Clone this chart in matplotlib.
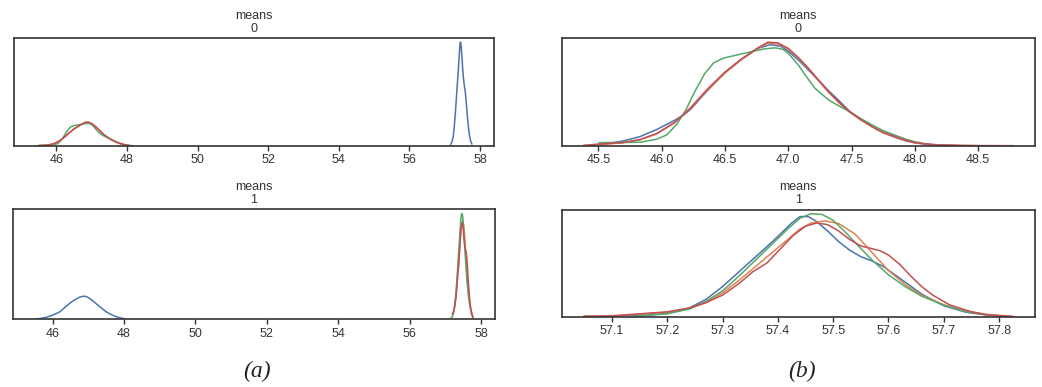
import numpy as np
import matplotlib
matplotlib.use("Agg")
import matplotlib.pyplot as plt

# ---------------- data ----------------
# Component near 46.8 ("low"), density per chain (relative units)
low_blue_x = [45.45, 45.5, 45.6, 45.7, 45.83, 45.96, 46.1, 46.18, 46.23, 46.36, 46.5, 46.63, 46.76, 46.86, 46.94, 47.0,
              47.1, 47.2, 47.32, 47.4, 47.48, 47.57, 47.66, 47.75, 47.85, 47.93, 48.0, 48.1, 48.2, 48.35]
low_blue_y = [0.006, 0.012, 0.025, 0.045, 0.085, 0.15, 0.235, 0.29, 0.34, 0.51, 0.68, 0.805, 0.905, 0.94, 0.925, 0.88,
              0.775, 0.655, 0.51, 0.42, 0.325, 0.245, 0.178, 0.12, 0.075, 0.045, 0.027, 0.012, 0.005, 0.001]
low_orange_x = [45.42, 45.5, 45.6, 45.7, 45.83, 45.96, 46.1, 46.23, 46.36, 46.5, 46.63, 46.76, 46.84, 46.92, 47.0,
                47.08, 47.16, 47.24, 47.32, 47.4, 47.48, 47.57, 47.66, 47.75, 47.85, 47.93, 48.0, 48.1, 48.2, 48.35, 48.5]
low_orange_y = [0.004, 0.01, 0.018, 0.028, 0.055, 0.11, 0.21, 0.35, 0.515, 0.675, 0.8, 0.905, 0.955, 0.948, 0.9,
                0.815, 0.715, 0.605, 0.495, 0.4, 0.318, 0.243, 0.178, 0.122, 0.078, 0.047, 0.028, 0.013, 0.006, 0.002, 0.0]
low_green_x = [45.5, 45.6, 45.7, 45.83, 45.96, 46.04, 46.12, 46.19, 46.26, 46.34, 46.41, 46.49, 46.6, 46.71, 46.81,
               46.9, 46.96, 47.0, 47.08, 47.13, 47.21, 47.32, 47.4, 47.48, 47.57, 47.66, 47.75, 47.85, 47.93, 48.0,
               48.06, 48.12]
low_green_y = [0.028, 0.03, 0.03, 0.032, 0.06, 0.1, 0.2, 0.33, 0.5, 0.67, 0.77, 0.815, 0.845, 0.875, 0.9,
               0.91, 0.895, 0.86, 0.75, 0.665, 0.535, 0.425, 0.37, 0.32, 0.255, 0.195, 0.14, 0.095, 0.06, 0.037,
               0.022, 0.012]
low_red_x = [45.38, 45.5, 45.6, 45.7, 45.83, 45.96, 46.1, 46.23, 46.36, 46.5, 46.63, 46.76, 46.84, 46.92, 47.0,
             47.08, 47.16, 47.24, 47.32, 47.4, 47.48, 47.57, 47.66, 47.75, 47.85, 47.93, 48.0, 48.1, 48.2, 48.35,
             48.5, 48.78]
low_red_y = [0.004, 0.014, 0.022, 0.03, 0.058, 0.113, 0.215, 0.355, 0.525, 0.685, 0.805, 0.91, 0.963, 0.955, 0.905,
             0.82, 0.72, 0.61, 0.5, 0.405, 0.32, 0.245, 0.18, 0.125, 0.082, 0.05, 0.03, 0.015, 0.007, 0.003,
             0.001, 0.0]

# Component near 57.45 ("high"), density per chain (relative units of its own panel)
high_blue_x = [57.10, 57.16, 57.20, 57.24, 57.27, 57.30, 57.33, 57.36, 57.39, 57.41, 57.425, 57.44, 57.455,
               57.47, 57.49, 57.51, 57.53, 57.55, 57.57, 57.59, 57.62, 57.66, 57.70, 57.74, 57.78, 57.81]
high_blue_y = [0.006, 0.01, 0.03, 0.08, 0.16, 0.28, 0.42, 0.56, 0.7, 0.8, 0.875, 0.935, 0.935,
               0.89, 0.8, 0.7, 0.62, 0.56, 0.52, 0.47, 0.36, 0.21, 0.1, 0.04, 0.013, 0.003]
high_orange_x = [57.05, 57.10, 57.20, 57.24, 57.27, 57.30, 57.33, 57.36, 57.39, 57.42, 57.44, 57.46, 57.485,
                 57.51, 57.54, 57.57, 57.60, 57.63, 57.66, 57.70, 57.74, 57.78, 57.82]
high_orange_y = [0.002, 0.005, 0.038, 0.075, 0.13, 0.22, 0.34, 0.47, 0.6, 0.73, 0.82, 0.875, 0.895,
                 0.87, 0.77, 0.6, 0.43, 0.3, 0.2, 0.11, 0.05, 0.019, 0.003]
high_green_x = [57.145, 57.20, 57.24, 57.27, 57.30, 57.33, 57.36, 57.39, 57.42, 57.44, 57.46, 57.48, 57.50,
                57.52, 57.54, 57.57, 57.60, 57.63, 57.66, 57.70, 57.74, 57.78, 57.81]
high_green_y = [0.005, 0.025, 0.07, 0.14, 0.24, 0.38, 0.53, 0.68, 0.83, 0.92, 0.963, 0.955, 0.9,
                0.8, 0.69, 0.53, 0.39, 0.28, 0.19, 0.106, 0.044, 0.013, 0.003]
high_red_x = [57.048, 57.10, 57.20, 57.24, 57.27, 57.30, 57.33, 57.355, 57.38, 57.404, 57.428, 57.45, 57.47,
              57.49, 57.51, 57.53, 57.55, 57.57, 57.585, 57.60, 57.62, 57.64, 57.66, 57.68, 57.71, 57.75, 57.78,
              57.826]
high_red_y = [0.002, 0.006, 0.044, 0.08, 0.13, 0.2, 0.31, 0.42, 0.5, 0.63, 0.76, 0.845, 0.875,
              0.86, 0.8, 0.72, 0.66, 0.635, 0.615, 0.575, 0.49, 0.38, 0.28, 0.2, 0.11, 0.044, 0.013,
              0.002]

# height of the narrow component relative to the wide one
high_density_ratio = 4.47

# HDI ranges drawn in panel (a) for each component
low_range_a = (45.40, 48.28)
low_range_a_chain0 = (45.46, 48.0)
high_range_a = (57.14, 57.80)

chains = ["blue", "orange", "green", "red"]
colors = {"blue": "#4C72B0", "orange": "#DD8452", "green": "#55A868", "red": "#C44E52"}

low = {"blue": (low_blue_x, low_blue_y), "orange": (low_orange_x, low_orange_y),
       "green": (low_green_x, low_green_y), "red": (low_red_x, low_red_y)}
high = {"blue": (high_blue_x, high_blue_y), "orange": (high_orange_x, high_orange_y),
        "green": (high_green_x, high_green_y), "red": (high_red_x, high_red_y)}

xticks_a = [46, 48, 50, 52, 54, 56, 58]
xticks_b0 = [45.5, 46.0, 46.5, 47.0, 47.5, 48.0, 48.5]
xticks_b1 = [57.1, 57.2, 57.3, 57.4, 57.5, 57.6, 57.7, 57.8]

# ---------------- figure ----------------
W, H = 1042, 387
plt.rcParams["font.family"] = ["Liberation Sans", "DejaVu Sans"]
fig = plt.figure(figsize=(W / 100, H / 100), dpi=100)
fig.patch.set_facecolor("white")

def px_axes(l, t, r, b):
    return fig.add_axes([l / W, 1 - b / H, (r - l) / W, (b - t) / H])

axA0 = px_axes(14, 38, 494, 146)
axA1 = px_axes(13, 209.3, 495, 319.3)
axB0 = px_axes(561.7, 38, 1035, 145.7)
axB1 = px_axes(561.7, 209.5, 1035, 316.5)

def clip(xy, rng, scale=1.0):
    x = np.asarray(xy[0]); y = np.asarray(xy[1]) * scale
    m = (x >= rng[0]) & (x <= rng[1])
    return x[m], y[m]

TXT = "#333333"

def draw(ax, curves, title, xticks, fmt):
    ymax = 0
    for c, (x, y) in curves:
        ax.plot(x, y, color=colors[c], lw=1.1, solid_capstyle="butt")
        ymax = max(ymax, np.max(y))
    ax.set_ylim(0, ymax * 1.04)
    ax.set_yticks([])
    ax.set_xticks(xticks)
    ax.set_xticklabels([fmt.format(t) for t in xticks])
    ax.tick_params(axis="x", direction="out", length=3.5, width=1.0, pad=2.5,
                   labelsize=9, colors=TXT)
    for s in ax.spines.values():
        s.set_color("#333333")
        s.set_linewidth(1.2)
    ax.set_title(title, fontsize=9, color=TXT, pad=4.5, linespacing=1.1)

# panel (a): label switching
curves_A0 = [("blue", clip(high["blue"], high_range_a, high_density_ratio))]
curves_A0 += [(c, clip(low[c], low_range_a)) for c in chains[1:]]
curves_A1 = [("blue", clip(low["blue"], low_range_a_chain0))]
curves_A1 += [(c, clip(high[c], high_range_a, high_density_ratio)) for c in chains[1:]]
draw(axA0, curves_A0, "means\n0", xticks_a, "{:d}")
draw(axA1, curves_A1, "means\n1", xticks_a, "{:d}")

# panel (b): relabelled
curves_B0 = [(c, (np.asarray(low[c][0]), np.asarray(low[c][1]))) for c in chains]
curves_B1 = [(c, (np.asarray(high[c][0]), np.asarray(high[c][1]))) for c in chains]
draw(axB0, curves_B0, "means\n0", xticks_b0, "{:.1f}")
draw(axB1, curves_B1, "means\n1", xticks_b1, "{:.1f}")

fig.text(256.7 / W, 1 - 371.7 / H, "(a)", ha="center", va="center", fontsize=17,
         family=["Liberation Serif"], style="italic", color="#222222")
fig.text(801.7 / W, 1 - 371.7 / H, "(b)", ha="center", va="center", fontsize=17,
         family=["Liberation Serif"], style="italic", color="#222222")

fig.savefig("out.png", dpi=100, facecolor="white")
